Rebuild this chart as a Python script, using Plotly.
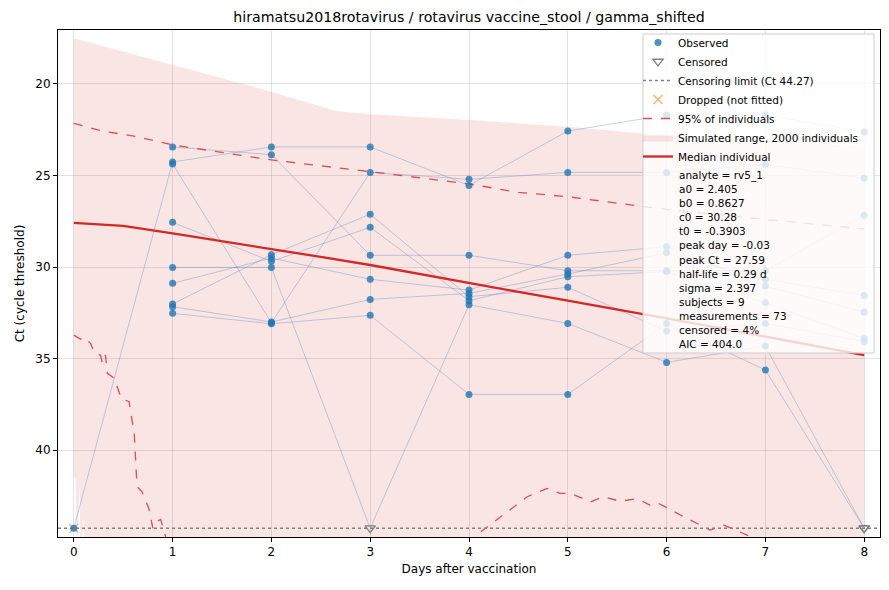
import plotly.graph_objects as go

# ---- data ----
days = [0, 1, 2, 3, 4, 5, 6, 7, 8]
CENSOR_CT = 44.27
C = "cens"  # censored (below detection) marker

# Ct per subject per day (None = not sampled)
subj_a = [None, 23.44, 23.86, 29.36, 29.36, 30.20, 30.20, 30.20, 27.17]
subj_b = [44.27, 24.26, 23.44, 23.44, 25.54, 22.57, 21.69, 21.69, 22.62]
subj_c = [None, 24.37, 33.04, 24.83, 25.21, 24.83, 24.83, 24.39, 25.15]
subj_d = [None, 27.56, 29.69, 27.83, 31.84, 30.53, 30.25, 31.95, 33.90]
subj_e = [None, 30.02, 30.02, C, 32.06, 33.08, 35.21, 34.32, C]
subj_f = [None, 30.89, 29.51, 30.67, 31.26, 29.36, 28.89, 31.04, 32.46]
subj_g = [None, 32.02, 29.33, 27.12, 31.62, 31.11, 33.50, 33.08, 34.08]
subj_h = [None, 32.17, 33.00, 31.77, 31.44, 30.38, 29.22, 30.67, 31.55]
subj_i = [None, 32.53, 33.10, 32.64, 36.96, 36.96, 33.08, 35.63, C]
subjects = [subj_a, subj_b, subj_c, subj_d, subj_e, subj_f, subj_g, subj_h, subj_i]

dropped_day = [0]
dropped_ct = [44.27]

# simulated range (2000 individuals)
sim_top_days = [0, 1, 2, 2.65, 3, 4, 5, 5.75, 6, 7, 8]
sim_top_ct = [17.5, 18.96, 20.42, 21.48, 21.65, 21.97, 22.33, 22.7, 22.8, 23.1, 23.4]
sim_bot_days = [0, 0.02, 0.025, 0.06, 0.065, 0.1, 0.11, 8]
sim_bot_ct = [41.5, 41.5, 46.0, 41.8, 46.0, 43.7, 46.0, 46.0]

# 95% of individuals
p95_hi_days = [0, 0.2, 0.31, 0.5, 0.64, 1, 2, 3, 4, 4.5, 5, 5.77, 6, 7, 8]
p95_hi_ct = [22.15, 22.45, 22.6, 22.75, 22.88, 23.33, 24.15, 24.79, 25.46, 25.92,
             26.16, 26.7, 26.85, 27.4, 27.92]
p95_lo_days = [0, 0.07, 0.1, 0.17, 0.21, 0.27, 0.29, 0.32, 0.34, 0.41, 0.48, 0.56,
               0.59, 0.61, 0.64, 0.69, 0.76, 0.8, 0.83, 0.88, 0.93, 1.0, 2, 3, 4.0,
               4.05, 4.59, 4.79, 4.92, 5.03, 5.23, 5.36, 5.53, 5.7, 5.83, 5.9, 6.14,
               6.44, 6.58, 6.85, 7, 8]
p95_lo_ct = [33.72, 33.95, 33.84, 34.17, 34.72, 34.81, 35.26, 34.81, 35.81, 36.08,
             37.17, 37.36, 38.4, 38.9, 42.0, 42.28, 43.2, 44.27, 43.9, 43.8, 44.75,
             45.6, 46, 46, 45.6, 44.75, 42.55, 42.1, 42.37, 42.37, 42.83, 42.55,
             42.8, 42.65, 43.0, 42.86, 43.55, 44.37, 44.1, 44.73, 45.5, 46]

# median individual
median_days = [0, 0.5, 1, 1.5, 2, 2.5, 3, 3.5, 4, 4.5, 5, 5.5, 6, 6.5, 7, 7.5, 8]
median_ct = [27.59, 27.75, 28.16, 28.58, 29.02, 29.45, 29.89, 30.39, 30.89, 31.36,
             31.84, 32.3, 32.8, 33.3, 33.8, 34.3, 34.81]

param_lines = [
    "analyte = rv5_1", "a0 = 2.405", "b0 = 0.8627", "c0 = 30.28", "t0 = -0.3903",
    "peak day = -0.03", "peak Ct = 27.59", "half-life = 0.29 d", "sigma = 2.397",
    "subjects = 9", "measurements = 73", "censored = 4%", "AIC = 404.0",
]

x_range = [-0.16, 8.16]
y_range = [44.75, 17.05]
x_ticks = [0, 1, 2, 3, 4, 5, 6, 7, 8]
y_ticks = [20, 25, 30, 35, 40]

FONT = "DejaVu Sans"
W, H = 889, 590
M = dict(l=58, r=9, t=30, b=53)
plot_h = H - M["t"] - M["b"]


def py(px):
    # pixel row -> paper y
    return (H - M["b"] - px) / plot_h


def px_x(px):
    return (px - M["l"]) / (W - M["l"] - M["r"])


fig = go.Figure()

# simulated envelope
fig.add_trace(go.Scatter(
    x=sim_top_days + sim_bot_days[::-1],
    y=sim_top_ct + sim_bot_ct[::-1],
    fill="toself", fillcolor="rgba(214,39,40,0.12)",
    mode="lines", line=dict(width=0),
    name="Simulated range, 2000 individuals", legendrank=6, hoverinfo="skip",
))

# subject trajectories
for s in subjects:
    xs = [d for d, v in zip(days, s) if v is not None]
    ys = [CENSOR_CT if v == C else v for v in s if v is not None]
    fig.add_trace(go.Scatter(
        x=xs, y=ys, mode="lines",
        line=dict(color="rgba(70,120,175,0.33)", width=1),
        showlegend=False, hoverinfo="skip",
    ))

# 95% lines
fig.add_trace(go.Scatter(
    x=p95_hi_days, y=p95_hi_ct, mode="lines",
    line=dict(color="rgba(214,39,40,0.8)", width=1.3, dash="dash"),
    name="95% of individuals", legendrank=5,
))
fig.add_trace(go.Scatter(
    x=p95_lo_days, y=p95_lo_ct, mode="lines",
    line=dict(color="rgba(214,39,40,0.8)", width=1.3, dash="dash"),
    showlegend=False,
))

# censoring limit
fig.add_trace(go.Scatter(
    x=x_range, y=[CENSOR_CT, CENSOR_CT], mode="lines",
    line=dict(color="gray", width=1.5, dash="dot"),
    name="Censoring limit (Ct 44.27)", legendrank=3,
))

# median
fig.add_trace(go.Scatter(
    x=median_days, y=median_ct, mode="lines",
    line=dict(color="#d62728", width=2.3),
    name="Median individual", legendrank=7,
))

# dropped
fig.add_trace(go.Scatter(
    x=dropped_day, y=dropped_ct, mode="markers",
    marker=dict(symbol="x-thin", size=9, line=dict(color="rgba(255,127,14,0.6)", width=1.5)),
    name="Dropped (not fitted)", legendrank=4, cliponaxis=False,
))

# observed and censored points
obs_x, obs_y, cen_x, cen_y = [], [], [], []
for s in subjects:
    for d, v in zip(days, s):
        if v is None:
            continue
        if v == C:
            cen_x.append(d)
            cen_y.append(CENSOR_CT)
        else:
            obs_x.append(d)
            obs_y.append(v)

fig.add_trace(go.Scatter(
    x=obs_x, y=obs_y, mode="markers",
    marker=dict(color="rgba(31,119,180,0.8)", size=7),
    name="Observed", legendrank=1, cliponaxis=False,
))
fig.add_trace(go.Scatter(
    x=cen_x, y=cen_y, mode="markers",
    marker=dict(symbol="triangle-down-open", color="gray", size=9, line=dict(width=1.3)),
    name="Censored", legendrank=2, cliponaxis=False,
))

# legend box
fig.add_shape(type="rect", xref="paper", yref="paper",
              x0=px_x(643), x1=px_x(874), y0=py(353), y1=py(34),
              fillcolor="rgba(255,255,255,0.8)", line=dict(color="#cccccc", width=1),
              layer="above")

for i, txt in enumerate(param_lines):
    fig.add_annotation(xref="paper", yref="paper", x=px_x(677), y=py(175 + i * 14.1),
                       text=txt, showarrow=False, xanchor="left", yanchor="middle",
                       font=dict(family=FONT, size=10.5, color="black"))

axis_common = dict(
    showline=True, mirror=True, linecolor="black", linewidth=1,
    ticks="outside", ticklen=4, tickcolor="black",
    showgrid=True, gridcolor="rgba(176,176,176,0.35)", gridwidth=1,
    zeroline=False, tickfont=dict(family=FONT, size=12, color="black"),
)

fig.update_xaxes(range=x_range, tickvals=x_ticks,
                 title=dict(text="Days after vaccination", standoff=6,
                            font=dict(family=FONT, size=12, color="black")),
                 **axis_common)
fig.update_yaxes(range=y_range, tickvals=y_ticks,
                 title=dict(text="Ct (cycle threshold)", standoff=8,
                            font=dict(family=FONT, size=12, color="black")),
                 **axis_common)

fig.update_layout(
    width=W, height=H, margin=M,
    plot_bgcolor="white", paper_bgcolor="white",
    font=dict(family=FONT, size=12, color="black"),
    title=dict(text="hiramatsu2018rotavirus / rotavirus vaccine_stool / gamma_shifted",
               x=0.5, xref="paper", y=1 - 17 / H, yref="container", yanchor="middle",
               font=dict(family=FONT, size=14.2, color="black")),
    showlegend=True,
    legend=dict(x=px_x(638), y=py(28), xanchor="left", yanchor="top",
                bgcolor="rgba(0,0,0,0)", borderwidth=0,
                font=dict(family=FONT, size=10.5, color="black"),
                tracegroupgap=0, itemwidth=30),
)

# page has a default 8px body margin; drop it so the figure sits at the corner
fig.write_html("out.html", config={"displayModeBar": False},
               post_script="document.body.style.margin='0px';")
